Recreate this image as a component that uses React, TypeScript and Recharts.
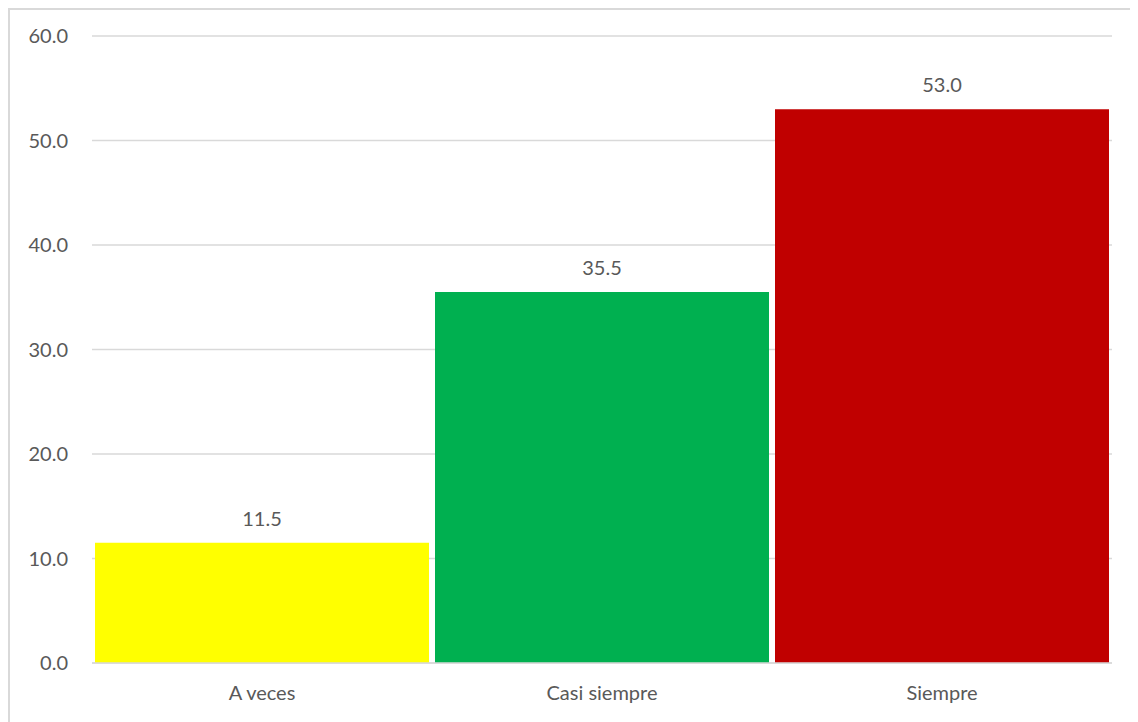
import React from 'react';
import { BarChart, Bar, XAxis, YAxis, CartesianGrid, LabelList, Cell } from 'recharts';

const categories = ['A veces', 'Casi siempre', 'Siempre'];
const values = [11.5, 35.5, 53.0];
const barColors = ['#FFFF00', '#00B050', '#C00000'];
const yTicks = [0, 10, 20, 30, 40, 50, 60];

const data = categories.map((name, i) => ({ name, value: values[i] }));

const textStyle = { fill: '#595959', fontSize: 20, fontFamily: 'Lato, "Open Sans", sans-serif' };

const App: React.FC = () => {
  return (
    <div
      style={{
        width: 1128,
        height: 712,
        border: '2px solid #d9d9d9',
        borderRight: 'none',
        borderBottom: 'none',
        background: '#fff',
        fontFamily: 'Lato, sans-serif',
      }}
    >
      <BarChart
        width={1128}
        height={712}
        data={data}
        margin={{ top: 26, right: 26, left: 0, bottom: 29 }}
        barCategoryGap={3}
      >
        <CartesianGrid vertical={false} stroke='#d9d9d9' strokeWidth={1.5} />
        <XAxis
          dataKey='name'
          axisLine={{ stroke: '#d9d9d9', strokeWidth: 1.5 }}
          tickLine={false}
          tick={textStyle}
          tickMargin={17}
          height={30}
        />
        <YAxis
          domain={[0, 60]}
          ticks={yTicks}
          axisLine={false}
          tickLine={false}
          tickSize={0}
          tickMargin={24}
          width={82}
          tick={textStyle}
          tickFormatter={(v: number) => v.toFixed(1)}
        />
        <Bar dataKey='value' isAnimationActive={false}>
          {data.map((d, i) => (
            <Cell key={d.name} fill={barColors[i]} />
          ))}
          <LabelList
            dataKey='value'
            position='top'
            offset={17}
            style={textStyle}
            formatter={(v: any) => Number(v).toFixed(1)}
          />
        </Bar>
      </BarChart>
    </div>
  );
};

export default App;
